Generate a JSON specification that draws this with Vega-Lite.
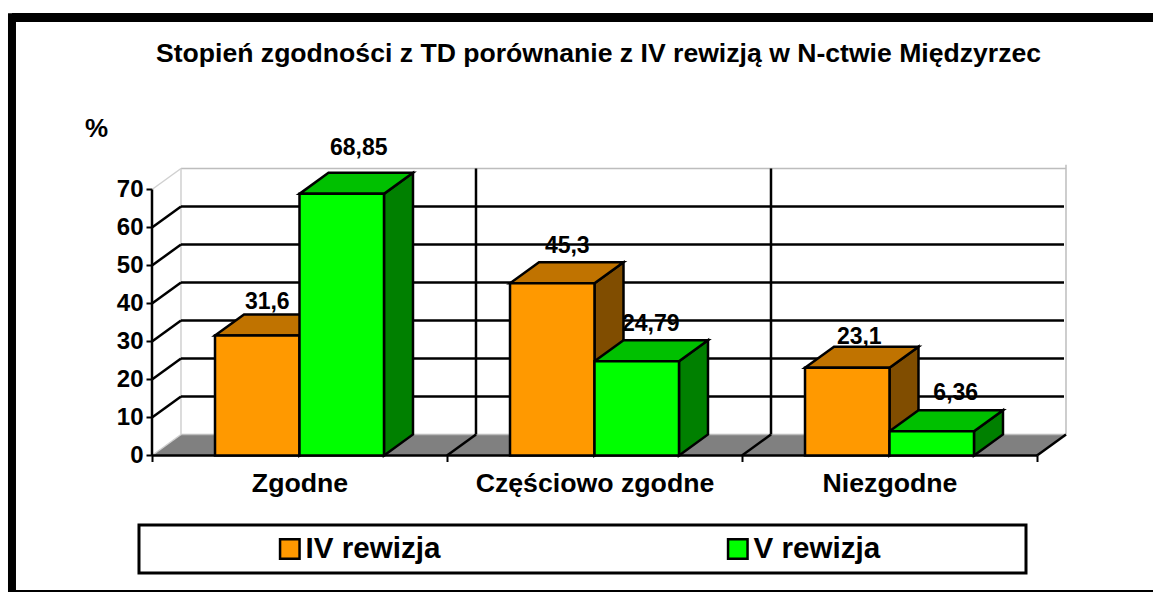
{"$schema":"https://vega.github.io/schema/vega-lite/v6.json","width":1153,"height":592,"autosize":{"type":"none"},"padding":0,"background":"white","config":{"view":{"stroke":null},"font":"Liberation Sans"},
"title":{"text":"Stopień zgodności z TD porównanie z IV rewizją w N-ctwie Międzyrzec","font":"Liberation Sans","fontWeight":"bold","fontSize":26.6,"color":"black","anchor":"middle","dx":22,"offset":-89,"baseline":"alphabetic","frame":"group"},
"datasets":{"bars":[{"category":"Zgodne","series":"IV rewizja","value":31.6},{"category":"Zgodne","series":"V rewizja","value":68.85},{"category":"Częściowo zgodne","series":"IV rewizja","value":45.3},{"category":"Częściowo zgodne","series":"V rewizja","value":24.79},{"category":"Niezgodne","series":"IV rewizja","value":23.1},{"category":"Niezgodne","series":"V rewizja","value":6.36}],
"grid":[{"v":10},{"v":20},{"v":30},{"v":40},{"v":50},{"v":60}],"dividers":[{"k":1},{"k":2},{"k":3}],"depth":[{"t":0},{"t":1}]},
"layer":[
{"data":{"values":[{}]},"mark":{"type":"rule","color":"black","strokeWidth":9},"encoding":{"x":{"datum":-0.4746,"type":"quantitative","scale":{"domain":[-0.51525,3.39322],"nice":false,"zero":false},"axis":{"values":[0,0.5,1,1.5,2,2.5,3],"offset":-136.5,"domain":false,"grid":false,"title":null,"tickSize":6,"tickWidth":2,"tickColor":"black","tickOpacity":{"expr":"datum.value % 1 === 0 ? 1 : 0"},"labelExpr":"datum.value==0.5?'Zgodne':datum.value==1.5?'Częściowo zgodne':datum.value==2.5?'Niezgodne':''","labelColor":"black","labelFont":"Liberation Sans","labelFontWeight":"bold","labelFontSize":26.7,"labelLimit":500,"labelPadding":9,"labelOverlap":false,"labelBound":false,"labelFlush":false}},"x2":{"datum":3.39322},"y":{"datum":115.26,"type":"quantitative","scale":{"domain":[-35.921,119.868],"nice":false,"zero":false},"axis":{"values":[0,10,20,30,40,50,60,70],"offset":-152,"domain":false,"grid":false,"tickSize":6,"tickWidth":2,"tickColor":"black","labelColor":"black","labelFont":"Liberation Sans","labelFontWeight":"bold","labelFontSize":24,"labelPadding":3,"labelOverlap":false,"labelBound":false,"labelFlush":false,"title":"%","titleFont":"Liberation Sans","titleFontWeight":"bold","titleFontSize":26,"titleColor":"black","titleAngle":0,"titleX":-56,"titleY":128,"titleAlign":"center","titleBaseline":"middle"}}}},
{"data":{"values":[{}]},"mark":{"type":"rule","color":"black","strokeWidth":8},"encoding":{"x":{"datum":-0.4746,"type":"quantitative","scale":{"domain":[-0.51525,3.39322],"nice":false,"zero":false}},"y":{"datum":-35.921,"type":"quantitative","scale":{"domain":[-35.921,119.868],"nice":false,"zero":false}},"y2":{"datum":116.4}}},
{"data":{"values":[{}]},"mark":{"type":"rule","color":"black","strokeWidth":2},"encoding":{"x":{"datum":-0.4746,"type":"quantitative","scale":{"domain":[-0.51525,3.39322],"nice":false,"zero":false}},"x2":{"datum":3.39322},"y":{"datum":-35.66,"type":"quantitative","scale":{"domain":[-35.921,119.868],"nice":false,"zero":false}}}},
{"data":{"values":[{}]},"mark":{"type":"rect","fill":"white","stroke":"black","strokeWidth":3},"encoding":{"x":{"datum":-0.0441,"type":"quantitative","scale":{"domain":[-0.51525,3.39322],"nice":false,"zero":false}},"x2":{"datum":2.9627},"y":{"datum":-18.29,"type":"quantitative","scale":{"domain":[-35.921,119.868],"nice":false,"zero":false}},"y2":{"datum":-30.92}}},
{"data":{"name":"depth"},"transform":[{"calculate":"datum.t*5.53","as":"fy"},{"calculate":"datum.t*0.0983","as":"fx"},{"calculate":"3+datum.t*0.0983","as":"fx2"}],"mark":{"type":"area","orient":"horizontal","fill":"#808080"},"encoding":{"y":{"field":"fy","type":"quantitative","scale":{"domain":[-35.921,119.868],"nice":false,"zero":false}},"x":{"field":"fx","type":"quantitative","scale":{"domain":[-0.51525,3.39322],"nice":false,"zero":false}},"x2":{"field":"fx2"}}},
{"data":{"values":[{}]},"layer":[
{"mark":{"type":"rule","color":"#BDBDBD","strokeWidth":1.5},"encoding":{"x":{"datum":0.0983,"type":"quantitative","scale":{"domain":[-0.51525,3.39322],"nice":false,"zero":false}},"x2":{"datum":3.0983},"y":{"datum":75.53,"type":"quantitative","scale":{"domain":[-35.921,119.868],"nice":false,"zero":false}}}},
{"mark":{"type":"rule","color":"#BDBDBD","strokeWidth":1.5},"encoding":{"x":{"datum":0.0983,"type":"quantitative","scale":{"domain":[-0.51525,3.39322],"nice":false,"zero":false}},"x2":{"datum":3.0983},"y":{"datum":5.53,"type":"quantitative","scale":{"domain":[-35.921,119.868],"nice":false,"zero":false}}}},
{"mark":{"type":"rule","color":"#D0D0D0","strokeWidth":1.5},"encoding":{"x":{"datum":0.0983,"type":"quantitative","scale":{"domain":[-0.51525,3.39322],"nice":false,"zero":false}},"y":{"datum":5.53,"type":"quantitative","scale":{"domain":[-35.921,119.868],"nice":false,"zero":false}},"y2":{"datum":75.53}}},
{"mark":{"type":"rule","color":"#BDBDBD","strokeWidth":1.5},"encoding":{"x":{"datum":3.0983,"type":"quantitative","scale":{"domain":[-0.51525,3.39322],"nice":false,"zero":false}},"y":{"datum":5.53,"type":"quantitative","scale":{"domain":[-35.921,119.868],"nice":false,"zero":false}},"y2":{"datum":76.5}}},
{"mark":{"type":"rule","color":"#D0D0D0","strokeWidth":1.5},"encoding":{"x":{"datum":0,"type":"quantitative","scale":{"domain":[-0.51525,3.39322],"nice":false,"zero":false}},"x2":{"datum":0.0983},"y":{"datum":70,"type":"quantitative","scale":{"domain":[-35.921,119.868],"nice":false,"zero":false}},"y2":{"datum":75.53}}},
{"mark":{"type":"rule","color":"#D0D0D0","strokeWidth":1.5},"encoding":{"x":{"datum":0,"type":"quantitative","scale":{"domain":[-0.51525,3.39322],"nice":false,"zero":false}},"x2":{"datum":0.0983},"y":{"datum":0,"type":"quantitative","scale":{"domain":[-35.921,119.868],"nice":false,"zero":false}},"y2":{"datum":5.53}}},
{"mark":{"type":"rule","color":"black","strokeWidth":2.5},"encoding":{"x":{"datum":0,"type":"quantitative","scale":{"domain":[-0.51525,3.39322],"nice":false,"zero":false}},"y":{"datum":0,"type":"quantitative","scale":{"domain":[-35.921,119.868],"nice":false,"zero":false}},"y2":{"datum":70}}},
{"mark":{"type":"rule","color":"black","strokeWidth":2.5},"encoding":{"x":{"datum":0,"type":"quantitative","scale":{"domain":[-0.51525,3.39322],"nice":false,"zero":false}},"x2":{"datum":3},"y":{"datum":0,"type":"quantitative","scale":{"domain":[-35.921,119.868],"nice":false,"zero":false}}}}
]},
{"data":{"name":"grid"},"transform":[{"calculate":"datum.v+5.53","as":"v2"}],"layer":[
{"mark":{"type":"rule","color":"black","strokeWidth":2.5},"encoding":{"x":{"datum":0,"type":"quantitative","scale":{"domain":[-0.51525,3.39322],"nice":false,"zero":false}},"x2":{"datum":0.0983},"y":{"field":"v","type":"quantitative","scale":{"domain":[-35.921,119.868],"nice":false,"zero":false}},"y2":{"field":"v2"}}},
{"mark":{"type":"rule","color":"black","strokeWidth":2.5},"encoding":{"x":{"datum":0.0983,"type":"quantitative","scale":{"domain":[-0.51525,3.39322],"nice":false,"zero":false}},"x2":{"datum":3.0915},"y":{"field":"v2","type":"quantitative","scale":{"domain":[-35.921,119.868],"nice":false,"zero":false}}}}
]},
{"data":{"name":"dividers"},"transform":[{"calculate":"datum.k+0.0983","as":"k2"}],"layer":[
{"mark":{"type":"rule","color":"black","strokeWidth":2.5},"encoding":{"x":{"field":"k","type":"quantitative","scale":{"domain":[-0.51525,3.39322],"nice":false,"zero":false}},"x2":{"field":"k2"},"y":{"datum":0,"type":"quantitative","scale":{"domain":[-35.921,119.868],"nice":false,"zero":false}},"y2":{"datum":5.53}}},
{"transform":[{"filter":"datum.k<3"}],"mark":{"type":"rule","color":"black","strokeWidth":2.5},"encoding":{"x":{"field":"k2","type":"quantitative","scale":{"domain":[-0.51525,3.39322],"nice":false,"zero":false}},"y":{"datum":5.53,"type":"quantitative","scale":{"domain":[-35.921,119.868],"nice":false,"zero":false}},"y2":{"datum":75.53}}}
]},
{"data":{"name":"bars"},"transform":[{"calculate":"indexof(['Zgodne','Częściowo zgodne','Niezgodne'],datum.category)","as":"c"},{"calculate":"datum.series=='IV rewizja'?0:1","as":"s"},{"calculate":"datum.c+0.2136+datum.s*0.2864","as":"xa"},{"calculate":"datum.xa+0.2864","as":"xb"},{"calculate":"datum.series+'|'+datum.category","as":"key"}],"layer":[
{"transform":[{"calculate":"[0,1]","as":"t"},{"flatten":["t"]},{"calculate":"datum.xb+datum.t*0.0983","as":"sx"},{"calculate":"datum.value+datum.t*5.53","as":"shi"},{"calculate":"datum.t*5.53","as":"slo"},{"calculate":"datum.s==0?'#804D00':'#008000'","as":"sideFill"}],"mark":{"type":"area","stroke":"black","strokeWidth":2.5},"encoding":{"x":{"field":"sx","type":"quantitative","scale":{"domain":[-0.51525,3.39322],"nice":false,"zero":false}},"y":{"field":"shi","type":"quantitative","stack":null,"scale":{"domain":[-35.921,119.868],"nice":false,"zero":false}},"y2":{"field":"slo"},"fill":{"field":"sideFill","type":"nominal","scale":null},"detail":{"field":"key"}}},
{"transform":[{"calculate":"[0,1]","as":"t"},{"flatten":["t"]},{"calculate":"datum.xa+datum.t*0.0983","as":"tx"},{"calculate":"datum.xb+datum.t*0.0983","as":"tx2"},{"calculate":"datum.value+datum.t*5.53","as":"ty"},{"calculate":"datum.s==0?'#C07300':'#00C000'","as":"topFill"}],"mark":{"type":"area","orient":"horizontal","stroke":"black","strokeWidth":2.5},"encoding":{"y":{"field":"ty","type":"quantitative","scale":{"domain":[-35.921,119.868],"nice":false,"zero":false}},"x":{"field":"tx","type":"quantitative","stack":null,"scale":{"domain":[-0.51525,3.39322],"nice":false,"zero":false}},"x2":{"field":"tx2"},"fill":{"field":"topFill","type":"nominal","scale":null},"detail":{"field":"key"}}},
{"mark":{"type":"rect","stroke":"black","strokeWidth":2.5},"encoding":{"x":{"field":"xa","type":"quantitative","scale":{"domain":[-0.51525,3.39322],"nice":false,"zero":false}},"x2":{"field":"xb"},"y":{"field":"value","type":"quantitative","scale":{"domain":[-35.921,119.868],"nice":false,"zero":false}},"y2":{"datum":0},"color":{"field":"series","type":"nominal","scale":{"domain":["IV rewizja","V rewizja"],"range":["#FF9900","#00FF00"]},"legend":{"orient":"none","legendX":275,"legendY":534,"direction":"horizontal","columns":2,"title":null,"columnPadding":282,"symbolType":"square","symbolSize":380,"symbolStrokeColor":"black","symbolStrokeWidth":2.5,"symbolOpacity":1,"labelFont":"Liberation Sans","labelFontWeight":"bold","labelFontSize":29.6,"labelColor":"black","labelOffset":1,"labelLimit":300,"padding":0,"rowPadding":0,"fillColor":null,"strokeColor":null}}}},
{"transform":[{"calculate":"{'IV rewizja|Zgodne':10,'V rewizja|Zgodne':17,'IV rewizja|Częściowo zgodne':15,'V rewizja|Częściowo zgodne':14,'IV rewizja|Niezgodne':12,'V rewizja|Niezgodne':24}[datum.key]","as":"ox"},{"calculate":"{'IV rewizja|Zgodne':33.4,'V rewizja|Zgodne':45.9,'IV rewizja|Częściowo zgodne':37.4,'V rewizja|Częściowo zgodne':37.3,'IV rewizja|Niezgodne':30.7,'V rewizja|Niezgodne':38.3}[datum.key]","as":"oy"},{"calculate":"(datum.xa+datum.xb)/2+datum.ox/295","as":"lx"},{"calculate":"datum.value+datum.oy/3.8","as":"ly"},{"calculate":"replace(''+datum.value,'.',',')","as":"label"}],"mark":{"type":"text","font":"Liberation Sans","fontWeight":"bold","fontSize":23,"color":"black","align":"center","baseline":"middle"},"encoding":{"x":{"field":"lx","type":"quantitative","scale":{"domain":[-0.51525,3.39322],"nice":false,"zero":false}},"y":{"field":"ly","type":"quantitative","scale":{"domain":[-35.921,119.868],"nice":false,"zero":false}},"text":{"field":"label"}}}
]}
]}
